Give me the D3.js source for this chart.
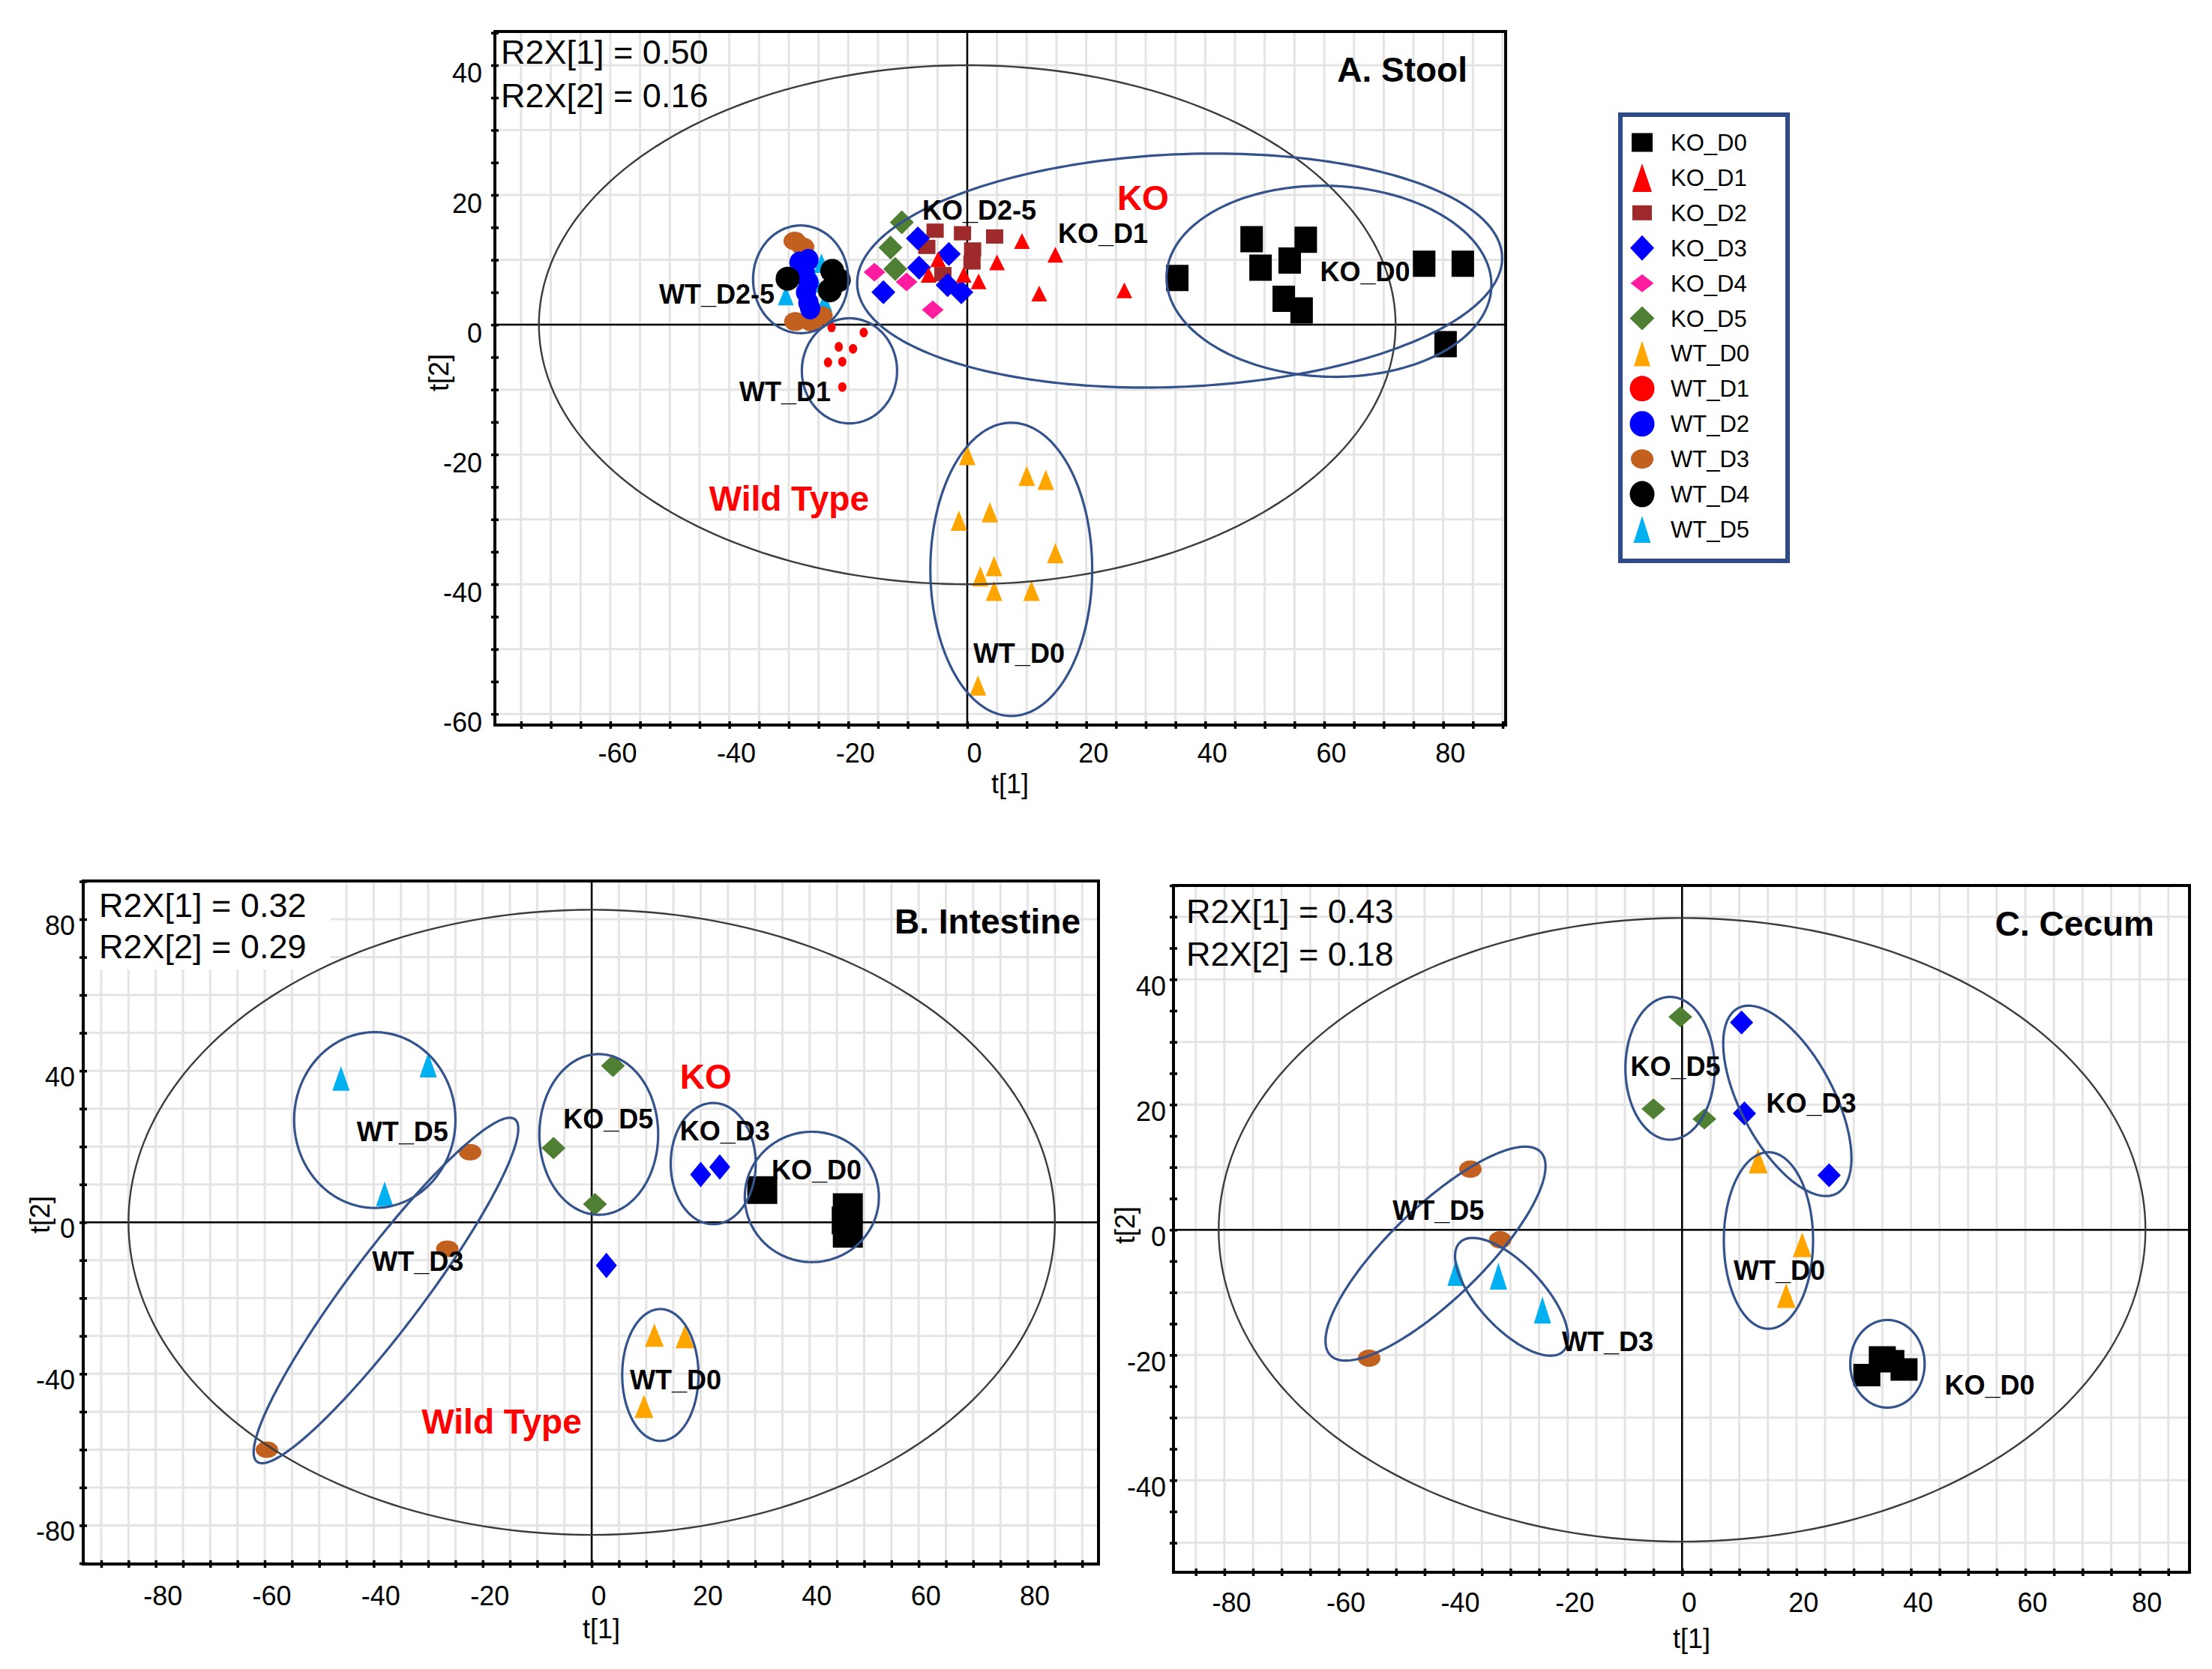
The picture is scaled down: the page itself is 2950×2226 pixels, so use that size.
<!DOCTYPE html>
<html><head><meta charset="utf-8">
<script src="https://cdn.jsdelivr.net/npm/d3@7"></script>
<style>body{margin:0;background:#fff}svg{display:block}text{font-family:"Liberation Sans",Arial,sans-serif}</style>
</head><body>
<script>
// ---------------- DATA ----------------
const categories = ["KO_D0","KO_D1","KO_D2","KO_D3","KO_D4","KO_D5","WT_D0","WT_D1","WT_D2","WT_D3","WT_D4","WT_D5"];

// Panel A: Stool  [group, t1, t2]
const stoolPoints = [
 ["WT_D5",-30.5,4.5],["WT_D5",-24.5,9.5],["WT_D5",-24,3.5],["WT_D5",-25.5,6.5],
 ["WT_D3",-29.0,12.9],["WT_D3",-27.6,12.0],["WT_D3",-28.9,0.5],["WT_D3",-26.2,0.4],["WT_D3",-24.5,1.4],
 ["WT_D2",-28.2,9.6],["WT_D2",-26.7,10.0],["WT_D2",-27.3,8.0],["WT_D2",-26.7,6.5],["WT_D2",-27.1,5.0],["WT_D2",-26.7,3.4],["WT_D2",-26.4,2.5],
 ["WT_D4",-30.2,7.1],["WT_D4",-22.7,8.3],["WT_D4",-23.1,5.3],["WT_D4",-21.6,6.9],
 ["KO_D2",-5.4,14.5],["KO_D2",-0.8,14.1],["KO_D2",4.6,13.6],["KO_D2",-6.8,12.0],["KO_D2",0.9,11.6],["KO_D2",0.8,9.6],["KO_D2",-4.1,7.8],
 ["KO_D5",-11.0,15.8],["KO_D5",-12.9,11.9],["KO_D5",-12.1,8.6],
 ["KO_D3",-8.3,13.3],["KO_D3",-3.1,10.9],["KO_D3",-8.1,8.8],["KO_D3",-14.1,5.0],["KO_D3",-3.3,6.1],["KO_D3",-1.0,5.0],
 ["KO_D4",-15.6,8.1],["KO_D4",-10.2,6.6],["KO_D4",-5.8,2.3],
 ["KO_D1",9.2,12.9],["KO_D1",14.8,10.8],["KO_D1",-4.9,10.1],["KO_D1",5.0,9.6],["KO_D1",-6.5,7.7],["KO_D1",-0.6,7.7],["KO_D1",1.9,6.7],["KO_D1",12.1,4.8],["KO_D1",26.4,5.3],
 ["KO_D0",35.3,7.2],["KO_D0",47.8,13.2],["KO_D0",49.3,8.8],["KO_D0",56.9,13.1],["KO_D0",54.2,9.9],["KO_D0",53.2,4.0],["KO_D0",56.2,2.2],["KO_D0",76.8,9.4],["KO_D0",83.3,9.4],["KO_D0",80.4,-3.0],
 ["WT_D0",0,-20.1],["WT_D0",10,-23.3],["WT_D0",13.2,-23.9],["WT_D0",3.8,-28.9],["WT_D0",-1.4,-30.2],["WT_D0",14.8,-35.2],["WT_D0",4.5,-37.2],["WT_D0",2.2,-38.8],["WT_D0",4.5,-41.0],["WT_D0",10.8,-41.0],["WT_D0",1.8,-55.6],
 ["WT_D1",-22.8,-0.4],["WT_D1",-17.4,-1.2],["WT_D1",-21.6,-3.4],["WT_D1",-19.2,-3.7],["WT_D1",-23.4,-5.8],["WT_D1",-21.0,-5.7],["WT_D1",-21.0,-9.6]
];
// Panel B: Intestine
const intestinePoints = [
 ["WT_D5",-46,38],["WT_D5",-30,41.5],["WT_D5",-38,7.5],
 ["WT_D3",-22.3,18.5],["WT_D3",-26.5,-7.0],["WT_D3",-59.6,-60],
 ["KO_D5",3.9,41.3],["KO_D5",-7,19.6],["KO_D5",0.6,4.8],
 ["KO_D3",20,12.6],["KO_D3",23.5,14.6],["KO_D3",2.7,-11.4],
 ["KO_D0",31.3,8.5],["KO_D0",47,4],["KO_D0",46.8,0.5],["KO_D0",47,-3],
 ["WT_D0",11.5,-29.8],["WT_D0",17.1,-30.2],["WT_D0",9.6,-48.6]
];
// Panel C: Cecum
const cecumPoints = [
 ["WT_D5",-39.5,-6.8],["WT_D5",-32.1,-7.4],["WT_D5",-24.4,-12.8],
 ["WT_D3",-37,9.7],["WT_D3",-31.8,-1.6],["WT_D3",-54.7,-20.5],
 ["KO_D5",-0.3,34],["KO_D5",-5,19.3],["KO_D5",3.9,17.7],
 ["KO_D3",10.4,33.1],["KO_D3",10.9,18.6],["KO_D3",25.7,8.7],
 ["KO_D0",32.3,-23.2],["KO_D0",35.0,-20.4],["KO_D0",38.8,-22.3],["KO_D0",36.5,-21.0],
 ["WT_D0",13.3,11],["WT_D0",21,-2.4],["WT_D0",18.2,-10.5]
];

// Group ellipses: [cx, cy, ux, uy, wx, wy] (centre and two conjugate semi-diameters, data units)
const stoolEllipses = [
 [-28,7,8,0,0,8.3],[-19.8,-7.1,8,0,0,8.1],
 [35.7,8.35,54.2,2.2,0.85,-17.9],[60.8,6.7,27.3,-0.87,-0.56,-14.7],
 [7.4,-37.7,13.6,0,0,22.6]
];
const stoolHotelling = [0,0,72,0,0,40];
const intestineEllipses = [
 [-39.8,27,14.8,0,0,23.2],[-37.75,-18,23.65,45.2,5.49,-5.98],
 [1.3,23.2,10.9,0,0,21.2],[22.3,15.5,7.8,0,0,16],
 [40.4,6.7,12.3,0,0,17.2],[12.6,-40.3,7.0,0,0,17.4]
];
const intestineHotelling = [0,0,85,0,0,82.5];
const cecumEllipses = [
 [-2.1,25.8,7.8,0,0,11.4],[18.4,20.6,8.61,-14.8,-7.17,-3.48],
 [15.1,-1.7,7.8,0,0,14.1],[35.9,-21.4,6.5,0,0,7.0],
 [-43.1,-3.8,18.38,16.23,5.65,-5.34],[-29.8,-10.7,8.99,-8.72,-4.10,-3.53]
];
const cecumHotelling = [0,0,81,0,0,49.8];

// Text labels: [text, t1, t2] (left/baseline anchor in data units)
const stoolLabels = [["KO_D2-5",-7.57,16.18],["KO_D1",15.26,12.6],["KO_D0",59.3,6.7],["WT_D2-5",-51.8,3.2],["WT_D1",-38.3,-11.8],["WT_D0",1.0,-52.1]];
const stoolRedLabels = [["KO",25.2,17.7],["Wild Type",-43.4,-28.6]];
const intestineLabels = [["WT_D5",-43.1,21.4],["KO_D5",-5.2,24.8],["KO_D3",16.2,21.6],["KO_D0",33.0,11.3],["WT_D3",-40.3,-12.9],["WT_D0",7.0,-44.0]];
const intestineRedLabels = [["KO",16.2,35.2],["Wild Type",-31.2,-55.8]];
const cecumLabels = [["KO_D5",-9.0,24.6],["KO_D3",14.7,18.7],["WT_D5",-50.6,1.6],["WT_D3",-21.0,-19.4],["WT_D0",9.0,-8.0],["KO_D0",45.9,-26.3]];
const cecumRedLabels = [];

// Tick labels
const stoolXTicks = [-60,-40,-20,0,20,40,60,80];
const stoolYTicks = [-60,-40,-20,0,20,40];
const intestineXTicks = [-80,-60,-40,-20,0,20,40,60,80];
const intestineYTicks = [-80,-40,0,40,80];
const cecumXTicks = [-80,-60,-40,-20,0,20,40,60,80];
const cecumYTicks = [-40,-20,0,20,40];

const stoolR2X = ["R2X[1] = 0.50","R2X[2] = 0.16"];
const intestineR2X = ["R2X[1] = 0.32","R2X[2] = 0.29"];
const cecumR2X = ["R2X[1] = 0.43","R2X[2] = 0.18"];

// ---------------- STYLE ----------------
const style = {
 KO_D0:{shape:"square",color:"#000000"},
 KO_D1:{shape:"triangle",color:"#FF0000"},
 KO_D2:{shape:"square",color:"#9E2A2B"},
 KO_D3:{shape:"diamond",color:"#0000FF"},
 KO_D4:{shape:"diamond",color:"#FF1C9E"},
 KO_D5:{shape:"diamond",color:"#4F7F33"},
 WT_D0:{shape:"triangle",color:"#FFA500"},
 WT_D1:{shape:"circle",color:"#FF0000"},
 WT_D2:{shape:"circle",color:"#0000FF"},
 WT_D3:{shape:"circle",color:"#C2601F"},
 WT_D4:{shape:"circle",color:"#000000"},
 WT_D5:{shape:"triangle",color:"#00B0F0"}
};
const sizesA = {KO_D0:[30,35],KO_D1:[21,21],KO_D2:[23,19],KO_D3:[32,32],KO_D4:[29,25],KO_D5:[32,32],WT_D0:[22,27],WT_D1:[11,13],WT_D2:[27,29],WT_D3:[30,25],WT_D4:[32,32],WT_D5:[21,26]};
const sizesB = {KO_D0:[40,37],KO_D3:[28,34],KO_D5:[32,30],WT_D0:[25,31],WT_D3:[30,22],WT_D5:[23,33]};
const sizesC = {KO_D0:[36,30],KO_D3:[31,32],KO_D5:[32,28],WT_D0:[25,33],WT_D3:[30,23],WT_D5:[23,36]};
const sizesLegend = {KO_D0:[28,25],KO_D1:[26,38],KO_D2:[26,20],KO_D3:[32,34],KO_D4:[31,24],KO_D5:[33,32],WT_D0:[22,34],WT_D1:[33,34],WT_D2:[33,34],WT_D3:[30,26],WT_D4:[33,35],WT_D5:[23,36]};
const ELL = "#34528C", FONT = '"Liberation Sans",Arial,sans-serif';
const fmt = d => String(d);

const W=2950,H=2226;
const svg=d3.select("body").append("svg").attr("width",W).attr("height",H);
svg.append("rect").attr("width",W).attr("height",H).attr("fill","#fff");

function shapePath(kind,w,h){
 const a=w/2,b=h/2;
 if(kind==="square") return `M${-a},${-b}H${a}V${b}H${-a}Z`;
 if(kind==="triangle") return `M0,${-b}L${a},${b}L${-a},${b}Z`;
 if(kind==="diamond") return `M0,${-b}L${a},0L0,${b}L${-a},0Z`;
 return `M${-a},0A${a},${b} 0 1,0 ${a},0A${a},${b} 0 1,0 ${-a},0Z`;
}
const drawOrder = ["WT_D5","WT_D3","WT_D2","WT_D4","KO_D2","KO_D5","KO_D3","KO_D4","KO_D1","KO_D0","WT_D0","WT_D1"];

function drawPanel(p){
 const x=d3.scaleLinear().domain(p.xDomain).range([p.left,p.right]);
 const y=d3.scaleLinear().domain(p.yDomain).range([p.bottom,p.top]);
 const g=svg.append("g");
 const mult=(dom,step)=>d3.range(Math.ceil(dom[0]/step-1e-9)*step, dom[1]+1e-9, step);
 // grid
 g.append("g").selectAll("line").data(mult(p.xDomain,5)).join("line")
  .attr("x1",d=>x(d)).attr("x2",d=>x(d)).attr("y1",p.top).attr("y2",p.bottom)
  .attr("stroke","#e4e4e4").attr("stroke-width",3);
 g.append("g").selectAll("line").data(mult(p.yDomain,10)).join("line")
  .attr("y1",d=>y(d)).attr("y2",d=>y(d)).attr("x1",p.left).attr("x2",p.right)
  .attr("stroke","#e4e4e4").attr("stroke-width",3);
 if(p.whiteBox) g.append("rect").attr("x",p.left+2).attr("y",p.top+2).attr("width",p.whiteBox[0]).attr("height",p.whiteBox[1]).attr("fill","#fff");
 // zero lines
 g.append("line").attr("x1",x(0)).attr("x2",x(0)).attr("y1",p.top).attr("y2",p.bottom).attr("stroke","#000").attr("stroke-width",2.5);
 g.append("line").attr("y1",y(0)).attr("y2",y(0)).attr("x1",p.left).attr("x2",p.right).attr("stroke","#000").attr("stroke-width",2.5);
 // points
 const pts = p.points.slice().sort((a,b)=>drawOrder.indexOf(a[0])-drawOrder.indexOf(b[0]));
 g.append("g").selectAll("path").data(pts).join("path")
  .attr("transform",d=>`translate(${x(d[1])},${y(d[2])})`)
  .attr("d",d=>shapePath(style[d[0]].shape,p.sizes[d[0]][0],p.sizes[d[0]][1]))
  .attr("fill",d=>style[d[0]].color);
 // ellipses
 const ellPath = e => {
  const ts=d3.range(0,2*Math.PI,Math.PI/120);
  return d3.line().curve(d3.curveLinearClosed)(ts.map(t=>[x(e[0]+Math.cos(t)*e[2]+Math.sin(t)*e[4]), y(e[1]+Math.cos(t)*e[3]+Math.sin(t)*e[5])]));
 };
 g.append("path").attr("d",ellPath(p.hotelling)).attr("fill","none").attr("stroke","#3c3c3c").attr("stroke-width",2.4);
 g.append("g").selectAll("path").data(p.ellipses).join("path").attr("d",ellPath)
  .attr("fill","none").attr("stroke",ELL).attr("stroke-width",3.2);
 // labels
 g.append("g").selectAll("text").data(p.labels).join("text")
  .attr("x",d=>x(d[1])).attr("y",d=>y(d[2])).text(d=>d[0])
  .attr("font-size",36).attr("font-weight","bold").attr("fill","#000");
 g.append("g").selectAll("text").data(p.redLabels).join("text")
  .attr("x",d=>x(d[1])).attr("y",d=>y(d[2])).text(d=>d[0])
  .attr("font-size",46).attr("font-weight","bold").attr("fill","#FF0000");
 // R2X text
 g.append("g").selectAll("text").data(p.r2x).join("text")
  .attr("x",p.left+p.r2xPos[0]).attr("y",(d,i)=>p.top+p.r2xPos[1]+i*p.r2xPos[2]).text(d=>d)
  .attr("font-size",45).attr("fill","#000");
 g.append("text").attr("x",p.titlePos[0]).attr("y",p.titlePos[1]).attr("text-anchor","end")
  .attr("font-size",46).attr("font-weight","bold").text(p.title);
 // axes: minor ticks
 const xa=g.append("g").attr("transform",`translate(0,${p.bottom})`)
  .call(d3.axisBottom(x).tickValues(mult(p.xDomain,5)).tickSize(5).tickFormat(""));
 xa.select(".domain").remove();
 xa.selectAll("line").attr("y1",-5).attr("stroke","#000").attr("stroke-width",3.5);
 const ya=g.append("g").attr("transform",`translate(${p.left},0)`)
  .call(d3.axisLeft(y).tickValues(mult(p.yDomain,p.yMinor)).tickSize(5).tickFormat(""));
 ya.select(".domain").remove();
 ya.selectAll("line").attr("x1",5).attr("stroke","#000").attr("stroke-width",3.5);
 // tick labels
 const xl=g.append("g").attr("transform",`translate(0,${p.bottom})`)
  .call(d3.axisBottom(x).tickValues(p.xTicks).tickSize(0).tickFormat(fmt));
 xl.select(".domain").remove();
 xl.selectAll("text").attr("y",p.xLabelBase).attr("dy",null).attr("dx",9)
  .attr("font-size",36).attr("font-family",FONT).attr("fill","#000");
 const yl=g.append("g").attr("transform",`translate(${p.left},0)`)
  .call(d3.axisLeft(y).tickValues(p.yTicks).tickSize(0).tickFormat(fmt));
 yl.select(".domain").remove();
 yl.selectAll("text").attr("x",-p.yLabelGap).attr("dy",null).attr("y",p.yLabelBase)
  .attr("font-size",36).attr("font-family",FONT).attr("fill","#000");
 // axis titles
 g.append("text").attr("x",p.t1[0]).attr("y",p.t1[1]).attr("text-anchor","middle").attr("font-size",36).text("t[1]");
 g.append("text").attr("transform",`translate(${p.t2[0]},${p.t2[1]}) rotate(-90)`).attr("text-anchor","middle").attr("font-size",36).text("t[2]");
 // frame
 g.append("rect").attr("x",p.left).attr("y",p.top).attr("width",p.right-p.left).attr("height",p.bottom-p.top)
  .attr("fill","none").attr("stroke","#000").attr("stroke-width",4);
}

drawPanel({left:660,top:42,right:2008,bottom:967,xDomain:[-79.4,90.5],yDomain:[-61.7,45.2],yMinor:5,
 points:stoolPoints,ellipses:stoolEllipses,hotelling:stoolHotelling,labels:stoolLabels,redLabels:stoolRedLabels,
 sizes:sizesA,r2x:stoolR2X,r2xPos:[8,43,58],title:"A. Stool",titlePos:[1957,109],
 xTicks:stoolXTicks,yTicks:stoolYTicks,xLabelBase:50,yLabelGap:17,yLabelBase:23,t1:[1347,1058],t2:[598,497]});
drawPanel({left:111,top:1175,right:1465,bottom:2086,xDomain:[-93.3,93.0],yDomain:[-90.2,90.1],yMinor:10,
 points:intestinePoints,ellipses:intestineEllipses,hotelling:intestineHotelling,labels:intestineLabels,redLabels:intestineRedLabels,
 sizes:sizesB,r2x:intestineR2X,r2xPos:[21,48,55],title:"B. Intestine",titlePos:[1441,1245],whiteBox:[328,116],
 xTicks:intestineXTicks,yTicks:intestineYTicks,xLabelBase:55,yLabelGap:11,yLabelBase:20,t1:[802,2185],t2:[66,1620]});
drawPanel({left:1565,top:1181,right:2920,bottom:2097,xDomain:[-88.9,88.7],yDomain:[-54.7,55],yMinor:5,
 points:cecumPoints,ellipses:cecumEllipses,hotelling:cecumHotelling,labels:cecumLabels,redLabels:cecumRedLabels,
 sizes:sizesC,r2x:cecumR2X,r2xPos:[17,50,57],title:"C. Cecum",titlePos:[2873,1248],
 xTicks:cecumXTicks,yTicks:cecumYTicks,xLabelBase:53,yLabelGap:10,yLabelBase:21,t1:[2256,2198],t2:[1513,1634]});

// legend
const lg=svg.append("g");
lg.append("rect").attr("x",2161).attr("y",153).attr("width",223).attr("height",595)
 .attr("fill","#fff").attr("stroke","#2E4A88").attr("stroke-width",6);
const rowY=d3.scalePoint().domain(categories).range([190,706]);
lg.selectAll("path").data(categories).join("path")
 .attr("transform",d=>`translate(2190,${rowY(d)})`)
 .attr("d",d=>shapePath(style[d].shape,sizesLegend[d][0],sizesLegend[d][1]))
 .attr("fill",d=>style[d].color);
lg.selectAll("text").data(categories).join("text")
 .attr("x",2228).attr("y",d=>rowY(d)+11).text(d=>d).attr("font-size",31).attr("fill","#000");
</script>
</body></html>
